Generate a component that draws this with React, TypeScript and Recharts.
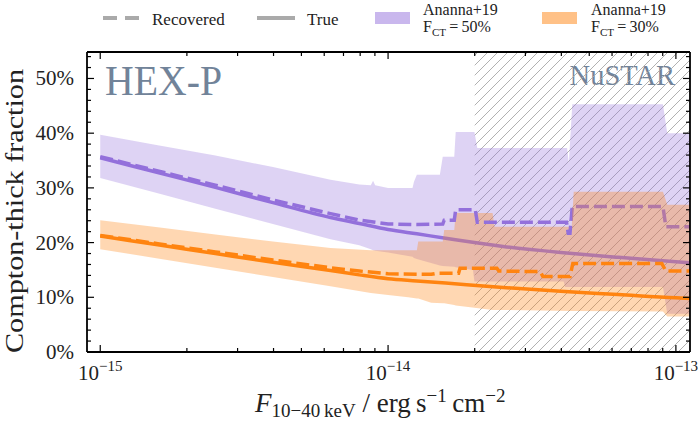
import React from 'react';
import { ComposedChart, Area, Line, XAxis, YAxis, ReferenceArea } from 'recharts';

const FONT = '"Liberation Serif", "Times New Roman", serif';
const PURPLE = '#9370db';
const PURPLE_UNDER = '#b278a6';
const ORANGE = '#ff8410';
const LABEL_GREY = '#718399';

const MARGIN = { top: 51, right: 8, bottom: 73, left: 86 };
const WIDTH = 699;
const HEIGHT = 426;

// x axis is log10 of the 10-40 keV flux
const X_MIN = -15.046;
const X_MAX = -12.951;
const Y_MAX = 54.84;

const decades = [-15, -14, -13];
const minorSteps = [2, 3, 4, 5, 6, 7, 8, 9];
const yMajor = [0, 10, 20, 30, 40, 50];
const yMinor = [2, 4, 6, 8, 12, 14, 16, 18, 22, 24, 26, 28, 32, 34, 36, 38, 42, 44, 46, 48, 52, 54];
const nustarLimit = 2e-14;

// where each purple line passes under the orange band (log10 F)
const purpleTrueUnderFrom = -13.81;
const purpleRecoveredUnderFrom = -13.36;

// [log10 F, low %, high %]
const purpleBand: [number, number, number][] = [
  [-15, 31.8, 39.7],
  [-14.8, 29.0, 37.8],
  [-14.6, 26.2, 35.9],
  [-14.4, 23.4, 33.8],
  [-14.2, 20.6, 31.5],
  [-14.1, 19.5, 30.6],
  [-14.06, 18.8, 30.5],
  [-14.052, 18.6, 31.3],
  [-14.045, 18.5, 30.5],
  [-14.0, 18.2, 30.0],
  [-13.915, 17.4, 30.0],
  [-13.91, 17.2, 31.1],
  [-13.9, 17.0, 32.4],
  [-13.82, 15.8, 32.4],
  [-13.81, 15.7, 35.7],
  [-13.77, 15.6, 35.7],
  [-13.765, 15.5, 40.2],
  [-13.705, 15.0, 40.2],
  [-13.7, 12.9, 40.2],
  [-13.69, 12.9, 37.3],
  [-13.39, 12.9, 37.3],
  [-13.385, 11.9, 37.3],
  [-13.378, 11.9, 37.3],
  [-13.372, 11.9, 34.5],
  [-13.36, 11.9, 45.3],
  [-13.045, 11.9, 45.3],
  [-13.03, 7.0, 40.0],
  [-12.951, 7.0, 40.0],
];

const orangeBand: [number, number, number][] = [
  [-15, 18.8, 24.1],
  [-14.8, 17.1, 22.8],
  [-14.6, 15.4, 21.5],
  [-14.4, 13.7, 20.2],
  [-14.2, 12.0, 19.0],
  [-14.06, 10.8, 18.6],
  [-14.0, 10.4, 18.6],
  [-13.93, 10.0, 18.6],
  [-13.9, 9.8, 18.6],
  [-13.895, 9.8, 20.2],
  [-13.85, 9.0, 20.2],
  [-13.81, 8.9, 20.2],
  [-13.805, 8.9, 22.3],
  [-13.77, 8.6, 22.3],
  [-13.765, 8.5, 25.4],
  [-13.7, 8.1, 25.4],
  [-13.637, 7.7, 25.4],
  [-13.63, 7.7, 22.9],
  [-13.362, 7.5, 22.9],
  [-13.355, 7.5, 29.3],
  [-13.045, 7.4, 29.3],
  [-13.03, 6.5, 26.9],
  [-12.951, 6.5, 26.9],
];

// [log10 F, fraction %]
const purpleTrue: [number, number][] = [
  [-15, 35.5], [-14.8, 32.8], [-14.6, 30.1], [-14.4, 27.3], [-14.2, 24.6], [-14.1, 23.5],
  [-14.0, 22.4], [-13.9, 21.6], [-13.8, 20.8], [-13.7, 20.0], [-13.6, 19.3], [-13.4, 18.2],
  [-13.2, 17.3], [-13.0, 16.5], [-12.951, 16.3],
];

const purpleRecovered: [number, number][] = [
  [-15, 35.7], [-14.8, 33.1], [-14.6, 30.5], [-14.4, 27.8], [-14.2, 25.3], [-14.1, 24.1],
  [-14.0, 23.4], [-13.9, 23.3], [-13.81, 23.4], [-13.805, 24.1], [-13.77, 24.1], [-13.765, 26.0],
  [-13.697, 26.0], [-13.69, 23.7], [-13.38, 23.7], [-13.374, 21.7], [-13.368, 21.7],
  [-13.36, 26.6], [-13.045, 26.6], [-13.035, 22.9], [-12.951, 22.9],
];

const orangeTrue: [number, number][] = [
  [-15, 21.2], [-14.8, 19.6], [-14.6, 18.0], [-14.4, 16.4], [-14.2, 14.9], [-14.1, 14.1],
  [-14.0, 13.4], [-13.9, 13.0], [-13.8, 12.6], [-13.6, 11.8], [-13.4, 11.1], [-13.2, 10.5],
  [-13.0, 9.9], [-12.951, 9.8],
];

const orangeRecovered: [number, number][] = [
  [-15, 21.3], [-14.8, 19.8], [-14.6, 18.3], [-14.4, 16.8], [-14.2, 15.4], [-14.1, 14.8],
  [-14.0, 14.3], [-13.85, 14.2], [-13.83, 14.4], [-13.755, 14.4], [-13.75, 15.3],
  [-13.622, 15.3], [-13.615, 14.8], [-13.472, 14.7], [-13.462, 13.8], [-13.368, 13.8],
  [-13.358, 16.2], [-13.049, 16.2], [-13.035, 14.8], [-12.951, 14.8],
];

const bandRows = (band: [number, number, number][]) => band.map(([x, lo, hi]) => ({ x, range: [lo, hi] }));
const lineRows = (line: [number, number][]) => line.map(([x, y]) => ({ x, y }));

const xTicks = [...decades, ...[-16, -15, -14].flatMap((d) => minorSteps.map((k) => d + Math.log10(k)))]
  .filter((v) => v > X_MIN + 0.005 && v < X_MAX - 0.005);
const yTicks = [...yMajor, ...yMinor];

const isMajorX = (v: number) => Math.abs(v - Math.round(v)) < 1e-6;
const isMajorY = (v: number) => v % 10 === 0;

// fraction of the plot width at a given log flux, for the stroke gradients
const xFrac = (v: number) => (v - X_MIN) / (X_MAX - X_MIN);

function BottomTick({ x, y, payload }: any) {
  const v = payload.value;
  const major = isMajorX(v);
  return (
    <g>
      <line x1={x} x2={x} y1={y} y2={y - (major ? 7 : 4)} stroke="#000" strokeWidth={1.2} />
      {major && (
        <text x={x} y={y + 28} textAnchor="middle" fontFamily={FONT} fontSize={21} fill="#222">
          10<tspan fontSize={15} dy={-9}>{'\u2212' + Math.abs(v)}</tspan>
        </text>
      )}
    </g>
  );
}

function TopTick({ x, y, payload }: any) {
  const major = isMajorX(payload.value);
  return <line x1={x} x2={x} y1={y} y2={y + (major ? 7 : 4)} stroke="#000" strokeWidth={1.2} />;
}

function LeftTick({ x, y, payload }: any) {
  const v = payload.value;
  const major = isMajorY(v);
  return (
    <g>
      <line x1={x} x2={x + (major ? 7 : 4)} y1={y} y2={y} stroke="#000" strokeWidth={1.2} />
      {major && (
        <text x={x - 13} y={y + 7} textAnchor="end" fontFamily={FONT} fontSize={21} fill="#222">
          {v}%
        </text>
      )}
    </g>
  );
}

function RightTick({ x, y, payload }: any) {
  const major = isMajorY(payload.value);
  return <line x1={x} x2={x - (major ? 7 : 4)} y1={y} y2={y} stroke="#000" strokeWidth={1.2} />;
}

function LegendBlock() {
  return (
    <g fontFamily={FONT} fill="#222">
      <line x1={103} x2={140} y1={18} y2={18} stroke="#aaa" strokeWidth={4} strokeDasharray="14 8" />
      <text x={152} y={25} fontSize={17}>Recovered</text>
      <line x1={257} x2={295} y1={18} y2={18} stroke="#aaa" strokeWidth={4} />
      <text x={307} y={25} fontSize={17}>True</text>
      <rect x={375} y={12} width={35} height={12} fill={PURPLE} fillOpacity={0.5} />
      <text x={423} y={15} fontSize={16}>Ananna+19</text>
      <text x={423} y={32} fontSize={16}>
        F<tspan fontSize={11} dy={4}>CT</tspan>
        <tspan dy={-4}>{'\u2009=\u200950%'}</tspan>
      </text>
      <rect x={542} y={12} width={35} height={12} fill={ORANGE} fillOpacity={0.5} />
      <text x={591} y={15} fontSize={16}>Ananna+19</text>
      <text x={591} y={32} fontSize={16}>
        F<tspan fontSize={11} dy={4}>CT</tspan>
        <tspan dy={-4}>{'\u2009=\u200930%'}</tspan>
      </text>
    </g>
  );
}

function Titles() {
  return (
    <g fontFamily={FONT} fill="#222">
      <text
        transform="translate(23,211) rotate(-90)"
        textAnchor="middle"
        fontSize={26}
        textLength={284}
        lengthAdjust="spacingAndGlyphs"
      >
        Compton-thick fraction
      </text>
      <text x={255} y={412} fontSize={27}>
        <tspan fontStyle="italic">F</tspan>
        <tspan fontSize={19} dy={5}>{'10\u221240\u2009keV'}</tspan>
        <tspan dy={-5}>{' / erg\u2009s'}</tspan>
        <tspan fontSize={19} dy={-10}>{'\u22121'}</tspan>
        <tspan dy={10}>{'\u2009cm'}</tspan>
        <tspan fontSize={19} dy={-10}>{'\u22122'}</tspan>
      </text>
      <text x={105} y={95} fontSize={43} fill={LABEL_GREY} textLength={117} lengthAdjust="spacingAndGlyphs">
        HEX-P
      </text>
      <text x={675} y={85} fontSize={28.5} fill={LABEL_GREY} textAnchor="end">
        NuSTAR
      </text>
    </g>
  );
}

function SplitStroke({ id, from }: { id: string; from: number }) {
  const f = xFrac(from);
  return (
    <linearGradient id={id} gradientUnits="userSpaceOnUse" x1={MARGIN.left + 1} x2={WIDTH - MARGIN.right - 1} y1={0} y2={0}>
      <stop offset={f} stopColor={PURPLE} />
      <stop offset={f} stopColor={PURPLE_UNDER} />
    </linearGradient>
  );
}

export default function App() {
  const axisLine = { stroke: '#000', strokeWidth: 1.8 };
  return (
    <div style={{ position: 'absolute', left: 0, top: 0, background: '#fff' }}>
      <ComposedChart width={WIDTH} height={HEIGHT} margin={MARGIN}>
        <defs>
          <pattern id="nustarHatch" patternUnits="userSpaceOnUse" width={10} height={10}>
            <path d="M-2,2 L2,-2 M0,10 L10,0 M8,12 L12,8" stroke="#a8a8a8" strokeWidth={0.9} />
          </pattern>
          <SplitStroke id="purpleTrueStroke" from={purpleTrueUnderFrom} />
          <SplitStroke id="purpleRecStroke" from={purpleRecoveredUnderFrom} />
        </defs>
        <XAxis
          type="number"
          dataKey="x"
          domain={[X_MIN, X_MAX]}
          allowDataOverflow
          ticks={xTicks}
          interval={0}
          tick={(p: any) => <BottomTick {...p} />}
          tickLine={false}
          tickSize={0}
          tickMargin={0}
          height={1}
          axisLine={axisLine}
        />
        <XAxis
          xAxisId="top"
          orientation="top"
          type="number"
          dataKey="x"
          domain={[X_MIN, X_MAX]}
          allowDataOverflow
          ticks={xTicks}
          interval={0}
          tick={(p: any) => <TopTick {...p} />}
          tickLine={false}
          tickSize={0}
          tickMargin={0}
          height={1}
          axisLine={axisLine}
        />
        <YAxis
          type="number"
          domain={[0, Y_MAX]}
          allowDataOverflow
          ticks={yTicks}
          interval={0}
          tick={(p: any) => <LeftTick {...p} />}
          tickLine={false}
          tickSize={0}
          tickMargin={0}
          width={1}
          axisLine={axisLine}
        />
        <YAxis
          yAxisId="right"
          orientation="right"
          type="number"
          domain={[0, Y_MAX]}
          allowDataOverflow
          ticks={yTicks}
          interval={0}
          tick={(p: any) => <RightTick {...p} />}
          tickLine={false}
          tickSize={0}
          tickMargin={0}
          width={1}
          axisLine={axisLine}
        />
        <ReferenceArea x1={Math.log10(nustarLimit)} x2={X_MAX} y1={0} y2={Y_MAX} fill="url(#nustarHatch)" fillOpacity={1} stroke="none" />
        <Area
          data={bandRows(purpleBand)}
          dataKey="range"
          type="linear"
          fill={PURPLE}
          fillOpacity={0.31}
          stroke="none"
          isAnimationActive={false}
          activeDot={false}
        />
        <Line data={lineRows(purpleTrue)} dataKey="y" type="monotone" stroke="url(#purpleTrueStroke)" strokeWidth={3.5} dot={false} activeDot={false} isAnimationActive={false} />
        <Line data={lineRows(purpleRecovered)} dataKey="y" type="linear" stroke="url(#purpleRecStroke)" strokeWidth={3.5} strokeDasharray="13 5" dot={false} activeDot={false} isAnimationActive={false} />
        <Area
          data={bandRows(orangeBand)}
          dataKey="range"
          type="linear"
          fill={ORANGE}
          fillOpacity={0.32}
          stroke="none"
          isAnimationActive={false}
          activeDot={false}
        />
        <Line data={lineRows(orangeTrue)} dataKey="y" type="monotone" stroke={ORANGE} strokeWidth={3.5} dot={false} activeDot={false} isAnimationActive={false} />
        <Line data={lineRows(orangeRecovered)} dataKey="y" type="linear" stroke={ORANGE} strokeWidth={3.5} strokeDasharray="13 5" dot={false} activeDot={false} isAnimationActive={false} />
        <LegendBlock />
        <Titles />
      </ComposedChart>
    </div>
  );
}
